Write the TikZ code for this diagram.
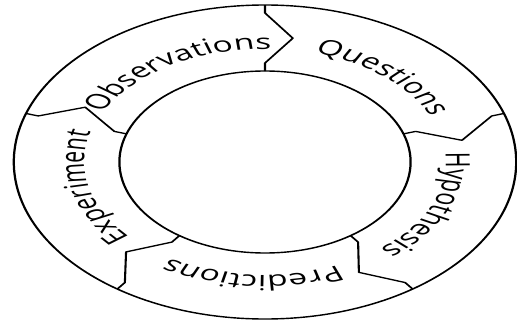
\documentclass[tikz,border=0pt]{standalone}
\usepackage{fontspec}
\setmainfont{Open Sans}
\usetikzlibrary{decorations.text}
\tikzset{
	ring/.style={line width=1.4pt},
	divider/.style={line width=1.3pt, line join=round},
	ringlabel/.style={decorate, decoration={text along path, text align=center,
		text={|\fontsize{21}{24}\selectfont|#1}}}
}

\begin{document}
\begin{tikzpicture}[x=1pt,y=1pt]
	\useasboundingbox (0,0) rectangle (517,325);
	\begin{scope}[transform canvas={shift={(265,163)},xscale=1.6}]
	\draw[ring] (0,0) circle[radius=157];
	\draw[ring] (0,0) circle[radius=91];
	
	\foreach \a in {90,18,-54,-126,162}
		\draw[divider] (\a:157) -- (\a:149) -- (\a-8:125) -- (\a:99) -- (\a:91);
	
	\path[ringlabel=Observations] (166:113) arc[start angle=166, end angle=76, radius=113];
	\path[ringlabel=Questions] (94:113) arc[start angle=94, end angle=4, radius=113];
	\path[ringlabel=Hypothesis] (22:113) arc[start angle=22, end angle=-68, radius=113];
	\path[ringlabel=Predictions] (-49:113) arc[start angle=-49, end angle=-139, radius=113];
	\path[ringlabel=Experiment] (238:113) arc[start angle=238, end angle=148, radius=113];
	\end{scope}
\end{tikzpicture}
\end{document}
